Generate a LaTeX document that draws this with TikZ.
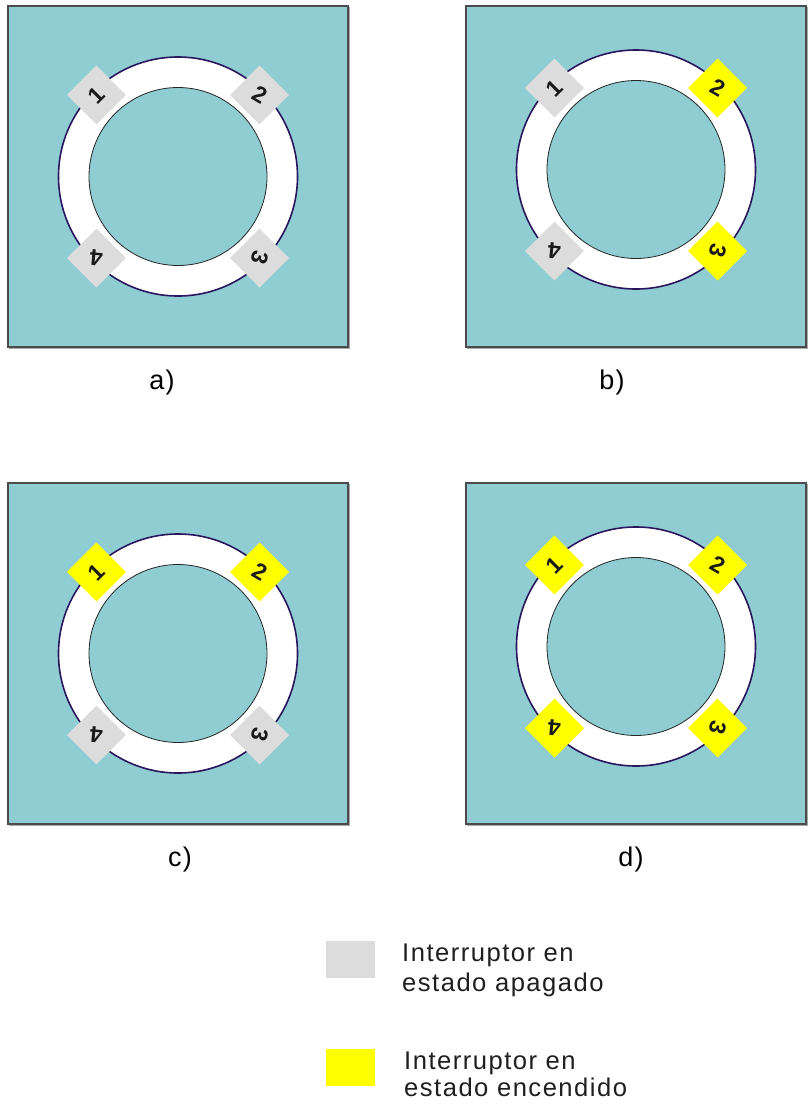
\documentclass[tikz,border=0pt]{standalone}
\usepackage{fontspec}
\setmainfont{Liberation Sans}
\newfontfamily\digitfont{Liberation Sans Bold}
\usetikzlibrary{calc}
\definecolor{pool}{RGB}{143,205,211}
\definecolor{offgray}{RGB}{220,220,220}
\definecolor{onyellow}{RGB}{255,255,0}
\definecolor{ringline}{RGB}{42,22,92}
\definecolor{framecol}{RGB}{75,75,75}
\definecolor{shadowcol}{RGB}{170,170,170}
\newcommand\switchdigit[2]{\rotatebox{#1}{\digitfont\fontsize{23}{23}\selectfont #2}}
\tikzset{
  panelbox/.style={draw=framecol, line width=1.3pt, fill=pool, minimum width=340pt, minimum height=341pt, inner sep=0pt},
  panelshadow/.style={draw=shadowcol, line width=1.2pt, minimum width=340pt, minimum height=341pt, inner sep=0pt},
  outerring/.style={circle, draw=ringline, line width=1.6pt, fill=white, minimum size=239pt, inner sep=0pt},
  innerring/.style={circle, draw=black!85, line width=0.8pt, fill=pool, minimum size=178pt, inner sep=0pt},
  switchbox/.style={rectangle, minimum width=41.7pt, minimum height=41.7pt, inner sep=0pt, rotate=45, text=black!90},
  caption/.style={font=\fontsize{27}{27}\selectfont\addfontfeature{LetterSpace=5}, inner sep=0pt, anchor=base},
  legendtext/.style={align=left, anchor=north west, inner sep=0pt, text=black!88},
  legendkey/.style={minimum width=49pt, minimum height=37pt, inner sep=0pt},
}
% #1 name, #2 square cx, #3 square cy, #4 ring dy, #5-#8 switch colours
\newcommand\ringpanel[8]{%
  \node[panelshadow] at ({#2+1.5},{#3+1.5}) {};
  \node[panelbox] (#1box) at (#2,#3) {};
  \coordinate (#1c) at (#2,{#3+#4});
  \node[outerring] (#1outer) at (#1c) {};
  \node[innerring] (#1inner) at (#1c) {};
  \node[switchbox, fill=#5] (#1s1) at ($(#1c)+(-81.6,-81.6)$) {\switchdigit{0}{1}};
  \node[switchbox, fill=#6] (#1s2) at ($(#1c)+(81.6,-81.6)$) {\switchdigit{-75}{2}};
  \node[switchbox, fill=#7] (#1s3) at ($(#1c)+(81.6,81.6)$) {\switchdigit{-150}{3}};
  \node[switchbox, fill=#8] (#1s4) at ($(#1c)+(-81.6,81.6)$) {\switchdigit{130}{4}};
}
\begin{document}
\begin{tikzpicture}[x=1pt,y=-1pt]
\useasboundingbox[fill=white] (0,0) rectangle (807,1104);
\ringpanel{a}{178}{176.5}{0}{offgray}{offgray}{offgray}{offgray}
\ringpanel{b}{636}{176.5}{-7}{offgray}{onyellow}{onyellow}{offgray}
\ringpanel{c}{178}{653.5}{0}{onyellow}{onyellow}{offgray}{offgray}
\ringpanel{d}{636}{653.5}{-7}{onyellow}{onyellow}{onyellow}{onyellow}
\node[caption] (acap) at (162,389) {a)};
\node[caption] (bcap) at (612,389) {b)};
\node[caption] (ccap) at (180,866) {c)};
\node[caption] (dcap) at (631,866) {d)};
\node[legendkey, fill=offgray] (offkey) at (350,959.5) {};
\node[legendtext, font=\fontsize{25.6}{29.5}\selectfont\addfontfeature{LetterSpace=5.8}] (offtext) at (402,944) {Interruptor en\\estado apagado};
\node[legendkey, fill=onyellow] (onkey) at (350,1067.5) {};
\node[legendtext, font=\fontsize{25.6}{26.5}\selectfont\addfontfeature{LetterSpace=5.8}] (ontext) at (404,1051.7) {Interruptor en\\estado encendido};
\end{tikzpicture}
\end{document}
